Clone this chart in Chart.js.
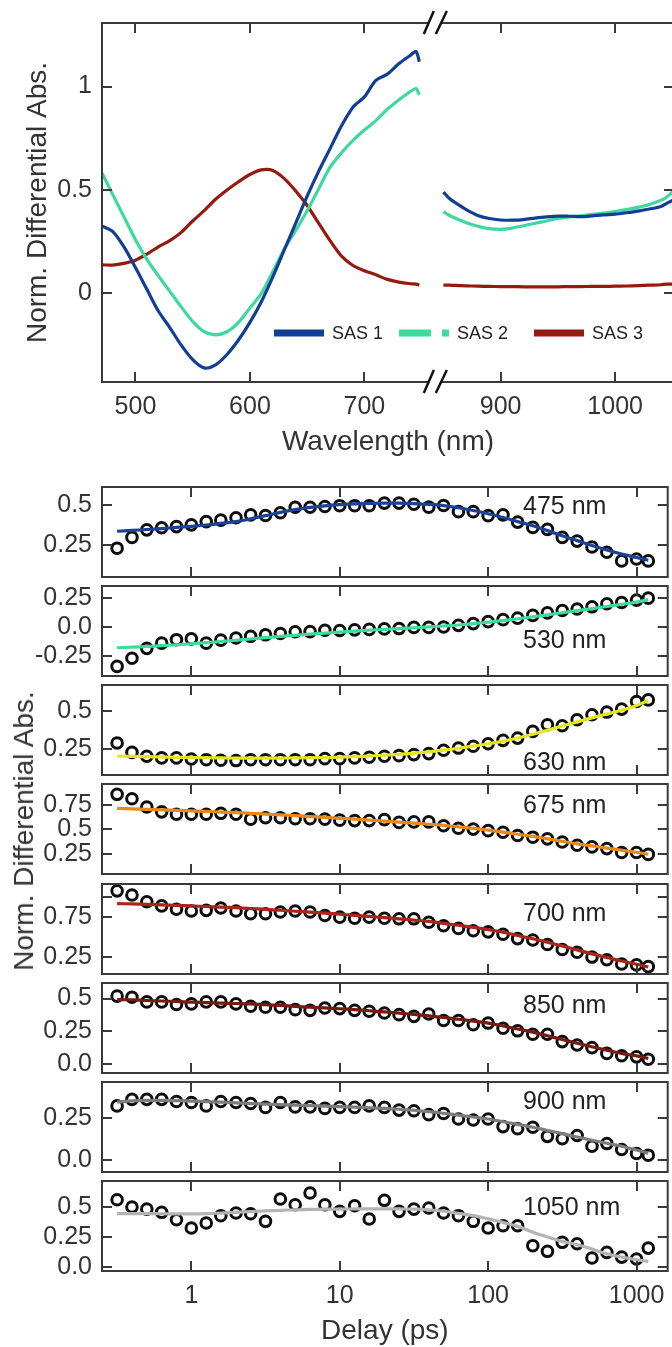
<!DOCTYPE html>
<html>
<head>
<meta charset="utf-8">
<script src="https://cdn.jsdelivr.net/npm/chart.js@4.4.0/dist/chart.umd.min.js"></script>
<style>
html,body{margin:0;padding:0;width:672px;height:1347px;overflow:hidden;background:#fff;}
canvas{position:absolute;left:0;}
#ytitle2{position:absolute;left:24px;top:831px;transform:translate(-50%,-50%) rotate(-90deg);font:28px 'Liberation Sans',Arial,sans-serif;color:#333;white-space:nowrap;}
</style>
</head>
<body>
<canvas id="cTop" width="676" height="460" style="top:0px"></canvas>
<div id="panels"></div>
<div id="ytitle2">Norm. Differential Abs.</div>
<script>
// ---------------- DATA: top panel (species-associated spectra) ----------------
const sasNames = ['SAS 1', 'SAS 2', 'SAS 3'];
const wlLeft = [471,480,490,500,510,520,530,540,550,560,570,580,590,600,610,620,630,640,650,660,670,680,690,700,710,720,730,740,745,748];
const wlRight = [850,855,860,870,880,890,900,910,920,930,940,950,960,970,980,990,1000,1010,1020,1030,1040,1045,1050];
const sas1Left = [0.325,0.30,0.225,0.125,0.02,-0.085,-0.165,-0.25,-0.32,-0.36,-0.345,-0.295,-0.225,-0.14,-0.04,0.08,0.21,0.34,0.47,0.59,0.70,0.81,0.90,0.95,1.03,1.06,1.11,1.15,1.17,1.12];
const sas2Left = [0.58,0.48,0.37,0.26,0.165,0.085,0.01,-0.065,-0.135,-0.185,-0.20,-0.185,-0.14,-0.07,0.0,0.105,0.215,0.305,0.40,0.505,0.61,0.68,0.74,0.79,0.835,0.89,0.935,0.975,0.99,0.96];
const sas3Left = [0.138,0.137,0.145,0.16,0.19,0.225,0.255,0.295,0.35,0.40,0.455,0.50,0.54,0.575,0.597,0.594,0.555,0.495,0.425,0.34,0.255,0.18,0.135,0.11,0.09,0.068,0.055,0.047,0.045,0.04];
const sas1Right = [0.49,0.46,0.44,0.405,0.377,0.362,0.355,0.354,0.357,0.364,0.37,0.374,0.373,0.371,0.375,0.38,0.383,0.39,0.398,0.408,0.42,0.435,0.45];
const sas2Right = [0.395,0.378,0.365,0.342,0.325,0.313,0.31,0.316,0.327,0.339,0.35,0.362,0.37,0.375,0.382,0.388,0.396,0.405,0.416,0.43,0.45,0.465,0.49];
const sas3Right = [0.04,0.04,0.039,0.037,0.035,0.034,0.033,0.033,0.032,0.032,0.032,0.032,0.033,0.033,0.034,0.034,0.035,0.036,0.038,0.04,0.042,0.045,0.045];
const topTickWl = [500,600,700,900,1000];
const topTickY = [0,0.5,1];
const topTickYLabels = ['0','0.5','1'];

// ---------------- DATA: kinetic traces ----------------
const delays = [0.316,0.398,0.501,0.631,0.794,1.0,1.26,1.58,2.0,2.51,3.16,3.98,5.01,6.31,7.94,10,12.6,15.8,20,25.1,31.6,39.8,50.1,63.1,79.4,100,126,158,200,251,316,398,501,631,794,1000,1200];
const delayTicks = [1,10,100,1000];
const delayTickLabels = ['1','10','100','1000'];
const probeLabels = ['475 nm','530 nm','630 nm','675 nm','700 nm','850 nm','900 nm','1050 nm'];

const obs475 = [0.233,0.30,0.347,0.36,0.367,0.378,0.398,0.407,0.422,0.44,0.436,0.453,0.487,0.487,0.492,0.497,0.497,0.497,0.513,0.513,0.506,0.488,0.498,0.46,0.46,0.435,0.44,0.395,0.362,0.35,0.30,0.277,0.24,0.208,0.154,0.166,0.154];
const fit475 = [0.338,0.343,0.349,0.355,0.362,0.369,0.377,0.387,0.398,0.415,0.435,0.455,0.472,0.486,0.496,0.503,0.508,0.511,0.513,0.513,0.51,0.505,0.497,0.484,0.467,0.447,0.424,0.398,0.372,0.342,0.31,0.28,0.25,0.222,0.197,0.175,0.158];
const obs530 = [-0.337,-0.267,-0.181,-0.136,-0.106,-0.099,-0.136,-0.11,-0.092,-0.077,-0.064,-0.053,-0.038,-0.036,-0.024,-0.027,-0.021,-0.017,-0.013,-0.01,0,0,0.004,0.018,0.033,0.05,0.067,0.08,0.104,0.126,0.146,0.159,0.178,0.205,0.215,0.236,0.253];
const fit530 = [-0.176,-0.171,-0.165,-0.158,-0.15,-0.141,-0.132,-0.122,-0.111,-0.1,-0.089,-0.078,-0.068,-0.058,-0.049,-0.04,-0.032,-0.024,-0.017,-0.01,-0.003,0.004,0.012,0.021,0.032,0.045,0.059,0.075,0.092,0.109,0.127,0.145,0.163,0.181,0.2,0.219,0.24];
const obs630 = [0.288,0.225,0.199,0.188,0.188,0.181,0.176,0.172,0.17,0.176,0.176,0.176,0.176,0.176,0.183,0.183,0.188,0.192,0.199,0.203,0.21,0.217,0.239,0.254,0.266,0.283,0.306,0.321,0.366,0.411,0.404,0.444,0.478,0.496,0.516,0.567,0.578];
const fit630 = [0.2,0.198,0.196,0.194,0.192,0.19,0.189,0.188,0.187,0.187,0.187,0.187,0.188,0.189,0.19,0.193,0.196,0.2,0.206,0.212,0.22,0.229,0.24,0.253,0.267,0.283,0.301,0.322,0.347,0.374,0.402,0.43,0.457,0.483,0.508,0.54,0.574];
const obs675 = [0.86,0.815,0.73,0.68,0.655,0.655,0.655,0.665,0.655,0.605,0.62,0.62,0.61,0.61,0.605,0.595,0.59,0.59,0.6,0.572,0.577,0.577,0.538,0.512,0.503,0.487,0.47,0.437,0.42,0.403,0.37,0.337,0.32,0.303,0.263,0.263,0.243];
const fit675 = [0.715,0.71,0.705,0.7,0.695,0.69,0.684,0.678,0.672,0.665,0.657,0.649,0.641,0.632,0.623,0.614,0.605,0.595,0.585,0.575,0.564,0.553,0.542,0.526,0.51,0.493,0.472,0.45,0.428,0.403,0.377,0.352,0.33,0.308,0.286,0.264,0.245];
const obs700 = [1.079,1.028,0.942,0.891,0.848,0.827,0.835,0.865,0.827,0.793,0.793,0.814,0.827,0.814,0.771,0.75,0.737,0.75,0.737,0.729,0.729,0.686,0.643,0.609,0.579,0.566,0.536,0.481,0.464,0.408,0.344,0.31,0.25,0.216,0.164,0.152,0.13];
const fit700 = [0.92,0.915,0.91,0.904,0.897,0.89,0.883,0.876,0.868,0.858,0.847,0.836,0.824,0.812,0.8,0.787,0.773,0.759,0.744,0.729,0.713,0.696,0.672,0.648,0.622,0.594,0.563,0.52,0.48,0.435,0.39,0.34,0.29,0.245,0.2,0.16,0.125];
const obs850 = [0.518,0.51,0.474,0.474,0.454,0.459,0.474,0.474,0.459,0.441,0.433,0.433,0.415,0.41,0.428,0.423,0.41,0.403,0.39,0.377,0.364,0.382,0.333,0.333,0.3,0.313,0.274,0.254,0.228,0.228,0.172,0.146,0.126,0.082,0.064,0.056,0.038];
const fit850 = [0.492,0.489,0.485,0.481,0.477,0.473,0.469,0.465,0.462,0.459,0.453,0.447,0.44,0.434,0.428,0.422,0.415,0.407,0.398,0.389,0.379,0.368,0.356,0.342,0.328,0.313,0.291,0.268,0.244,0.216,0.188,0.159,0.133,0.107,0.082,0.063,0.044];
const obs900 = [0.322,0.361,0.361,0.361,0.348,0.342,0.322,0.348,0.342,0.336,0.313,0.342,0.316,0.316,0.307,0.313,0.313,0.322,0.313,0.297,0.293,0.27,0.277,0.244,0.238,0.244,0.199,0.186,0.195,0.141,0.127,0.146,0.082,0.098,0.063,0.039,0.029];
const fit900 = [0.345,0.352,0.355,0.355,0.353,0.35,0.347,0.344,0.34,0.336,0.333,0.33,0.327,0.324,0.321,0.318,0.315,0.311,0.307,0.302,0.296,0.288,0.278,0.267,0.256,0.244,0.228,0.212,0.195,0.176,0.157,0.137,0.118,0.1,0.082,0.06,0.04];
const obs1050 = [0.561,0.5,0.483,0.456,0.394,0.325,0.367,0.428,0.45,0.444,0.381,0.567,0.519,0.617,0.519,0.464,0.511,0.4,0.556,0.464,0.483,0.492,0.45,0.428,0.381,0.325,0.344,0.344,0.178,0.131,0.206,0.194,0.075,0.122,0.083,0.067,0.158];
const fit1050 = [0.445,0.445,0.445,0.444,0.443,0.443,0.445,0.45,0.456,0.462,0.468,0.473,0.477,0.48,0.482,0.483,0.484,0.485,0.485,0.484,0.482,0.476,0.465,0.447,0.428,0.402,0.372,0.339,0.29,0.25,0.214,0.186,0.15,0.11,0.083,0.061,0.047];

const panelObs = [obs475, obs530, obs630, obs675, obs700, obs850, obs900, obs1050];
const panelFit = [fit475, fit530, fit630, fit675, fit700, fit850, fit900, fit1050];
const panelYMin = [0.054,-0.42,0.073,0.042,0.038,-0.067,-0.071,-0.033];
const panelYMax = [0.613,0.358,0.678,0.966,1.165,0.618,0.464,0.717];
const panelTicks = [[0.25,0.5],[-0.25,0,0.25],[0.25,0.5],[0.25,0.5,0.75],[0.25,0.75,1.0],[0,0.25,0.5],[0,0.25],[0,0.25,0.5]];
const panelTickLabels = [['0.25','0.5'],['-0.25','0.0','0.25'],['0.25','0.5'],['0.25','0.5','0.75'],['0.25','0.75',''],['0.0','0.25','0.5'],['0.0','0.25'],['0.0','0.25','0.5']];

// ---------------- STYLE / LAYOUT ----------------
const FONT = "'Liberation Sans', Arial, sans-serif";
const TXT = '#333';
const FRAME = '#3a3a3a';
const sasColors = ['#123f94', '#3fd9a0', '#971a0e'];
const fitColors = ['#1c4297', '#3fdb9c', '#e3e81e', '#e6891e', '#a8261a', '#761a12', '#7d7d7d', '#b3b3b3'];
const BREAK_LO = 761, BREAK_HI = 842;          // broken wavelength axis
function toAxis(wl) { return wl <= BREAK_LO ? wl : wl - (BREAK_HI - BREAK_LO); }
const panelTop = [487, 586, 685, 784, 884, 983, 1082, 1181];
const panelH = 90;
const probeLabelX = 523;
const probeLabelDy = [20, 55, 78, 22, 30, 23, 20, 27];
const legendLayout = { y: 333, xs: [274, 399, 534], swatchW: 50, gap: 8 };

// ---------------- PLUGINS ----------------
const frameTicks = {
  id: 'frameTicks',
  afterDatasetsDraw(chart, args, opts) {
    const { ctx, chartArea: a } = chart;
    const xs = chart.scales.x, ys = chart.scales.y;
    const L = 10;
    ctx.save();
    ctx.strokeStyle = FRAME;
    ctx.lineWidth = 2;
    ctx.strokeRect(a.left, a.top, a.right - a.left, a.bottom - a.top);
    ctx.beginPath();
    xs.ticks.forEach(t => {
      const p = Math.round(xs.getPixelForValue(t.value));
      ctx.moveTo(p, a.top); ctx.lineTo(p, a.top + L);
      ctx.moveTo(p, a.bottom); ctx.lineTo(p, a.bottom - L);
    });
    ys.ticks.forEach(t => {
      const p = Math.round(ys.getPixelForValue(t.value));
      ctx.moveTo(a.left, p); ctx.lineTo(a.left + L, p);
      ctx.moveTo(a.right, p); ctx.lineTo(a.right - L, p);
    });
    ctx.stroke();
    if (opts && opts.breakAt !== undefined) {
      const bx = xs.getPixelForValue(opts.breakAt);
      [a.top, a.bottom].forEach(y => {
        ctx.fillStyle = '#fff';
        ctx.fillRect(bx - 6, y - 3, 12, 6);
        ctx.strokeStyle = '#111';
        ctx.lineWidth = 2.5;
        ctx.beginPath();
        ctx.moveTo(bx - 11, y + 11); ctx.lineTo(bx - 1, y - 12);
        ctx.moveTo(bx + 1, y + 11); ctx.lineTo(bx + 12, y - 12);
        ctx.stroke();
      });
    }
    if (opts && opts.label) {
      ctx.fillStyle = '#222';
      ctx.font = '25px ' + FONT;
      ctx.textAlign = 'left';
      ctx.textBaseline = 'middle';
      ctx.fillText(opts.label, opts.labelX, a.top + opts.labelDy);
    }
    if (opts && opts.legend) {
      chart.data.datasets.forEach((ds, i) => {
        const x = legendLayout.xs[i], y = legendLayout.y;
        ctx.strokeStyle = ds.borderColor;
        ctx.lineWidth = 7;
        ctx.lineCap = 'butt';
        ctx.setLineDash(i === 1 ? [32, 11, 7, 100] : []);
        ctx.beginPath();
        ctx.moveTo(x, y); ctx.lineTo(x + legendLayout.swatchW, y);
        ctx.stroke();
        ctx.setLineDash([]);
        ctx.fillStyle = '#222';
        ctx.font = '18px ' + FONT;
        ctx.textAlign = 'left';
        ctx.textBaseline = 'middle';
        ctx.fillText(ds.label, x + legendLayout.swatchW + legendLayout.gap, y + 1);
      });
    }
    ctx.restore();
  }
};
Chart.register(frameTicks);

function fixY(w) { return s => { s.width = w; s.paddingTop = 0; s.paddingBottom = 0; }; }
function fixX(h) { return s => { s.height = h; s.paddingLeft = 0; s.paddingRight = 0; }; }

// ---------------- TOP CHART ----------------
function sasSeries(left, right) {
  const pts = wlLeft.map((w, k) => ({ x: toAxis(w), y: left[k] }));
  pts.push({ x: toAxis(800), y: null });
  wlRight.forEach((w, k) => pts.push({ x: toAxis(w), y: right[k] }));
  return pts;
}
const topTickU = topTickWl.map(toAxis);
new Chart(document.getElementById('cTop'), {
  type: 'line',
  data: {
    datasets: [
      { label: sasNames[0], data: sasSeries(sas1Left, sas1Right), borderColor: sasColors[0], borderWidth: 3.2, pointRadius: 0, tension: 0.3, spanGaps: false },
      { label: sasNames[1], data: sasSeries(sas2Left, sas2Right), borderColor: sasColors[1], borderWidth: 3.2, pointRadius: 0, tension: 0.3, spanGaps: false },
      { label: sasNames[2], data: sasSeries(sas3Left, sas3Right), borderColor: sasColors[2], borderWidth: 3.2, pointRadius: 0, tension: 0.3, spanGaps: false }
    ]
  },
  options: {
    responsive: false, animation: false, devicePixelRatio: 1, events: [],
    layout: { padding: { top: 23, right: 2, left: 0, bottom: 0 } },
    plugins: {
      legend: { display: false }, tooltip: { enabled: false },
      frameTicks: { breakAt: (BREAK_LO + 0.5), legend: true }
    },
    scales: {
      x: {
        type: 'linear', min: 470.8, max: 970.4,
        afterBuildTicks: s => { s.ticks = topTickU.map(v => ({ value: v })); },
        afterFit: fixX(78),
        grid: { display: false, drawTicks: false }, border: { display: false },
        ticks: { autoSkip: false, maxRotation: 0, padding: 10, color: TXT, font: { size: 25, family: FONT },
          callback: (v, i) => String(topTickWl[i]) },
        title: { display: true, text: 'Wavelength (nm)', color: TXT, font: { size: 28, family: FONT }, padding: { top: 0, bottom: 1 } }
      },
      y: {
        type: 'linear', min: -0.428, max: 1.307,
        afterBuildTicks: s => { s.ticks = topTickY.map(v => ({ value: v })); },
        afterFit: fixY(102),
        grid: { display: false, drawTicks: false }, border: { display: false },
        ticks: { padding: 10, color: TXT, font: { size: 25, family: FONT }, callback: (v, i) => topTickYLabels[i] },
        title: { display: true, text: 'Norm. Differential Abs.', color: TXT, font: { size: 28, family: FONT }, padding: { top: 21, bottom: 0 } }
      }
    }
  }
});

// ---------------- KINETIC PANELS ----------------
const holder = document.getElementById('panels');
panelObs.forEach((obs, i) => {
  const last = i === panelObs.length - 1;
  const cv = document.createElement('canvas');
  const h = last ? 177 : panelH + 20;
  cv.width = 676; cv.height = h;
  cv.style.top = (panelTop[i] - 10) + 'px';
  holder.appendChild(cv);
  new Chart(cv, {
    type: 'line',
    data: {
      datasets: [
        { data: delays.map((d, k) => ({ x: d, y: panelFit[i][k] })), borderColor: fitColors[i], borderWidth: 3.2, pointRadius: 0, tension: 0.4, order: 1 },
        { data: delays.map((d, k) => ({ x: d, y: obs[k] })), showLine: false, pointRadius: 5.3, pointBorderWidth: 3, pointBorderColor: '#0d0d0d', pointBackgroundColor: 'rgba(0,0,0,0)', order: 2 }
      ]
    },
    options: {
      responsive: false, animation: false, devicePixelRatio: 1, events: [],
      layout: { padding: { top: 10, right: 2, left: 0, bottom: 0 } },
      plugins: {
        legend: { display: false }, tooltip: { enabled: false },
        frameTicks: { label: probeLabels[i], labelX: probeLabelX, labelDy: probeLabelDy[i] }
      },
      scales: {
        x: {
          type: 'logarithmic', min: 0.25, max: 1622,
          afterBuildTicks: s => { s.ticks = delayTicks.map(v => ({ value: v })); },
          afterFit: fixX(h - 10 - panelH),
          grid: { display: false, drawTicks: false }, border: { display: false },
          ticks: { display: last, autoSkip: false, maxRotation: 0, padding: 10, color: TXT, font: { size: 25, family: FONT },
            callback: (v, k) => delayTickLabels[k] },
          title: { display: last, text: 'Delay (ps)', color: TXT, font: { size: 28, family: FONT }, padding: { top: 0, bottom: 0 } }
        },
        y: {
          type: 'linear', min: panelYMin[i], max: panelYMax[i],
          afterBuildTicks: s => { s.ticks = panelTicks[i].map(v => ({ value: v })); },
          afterFit: fixY(102),
          grid: { display: false, drawTicks: false }, border: { display: false },
          ticks: { padding: 10, color: TXT, font: { size: 25, family: FONT }, callback: (v, k) => panelTickLabels[i][k] }
        }
      }
    }
  });
});
</script>
</body>
</html>
